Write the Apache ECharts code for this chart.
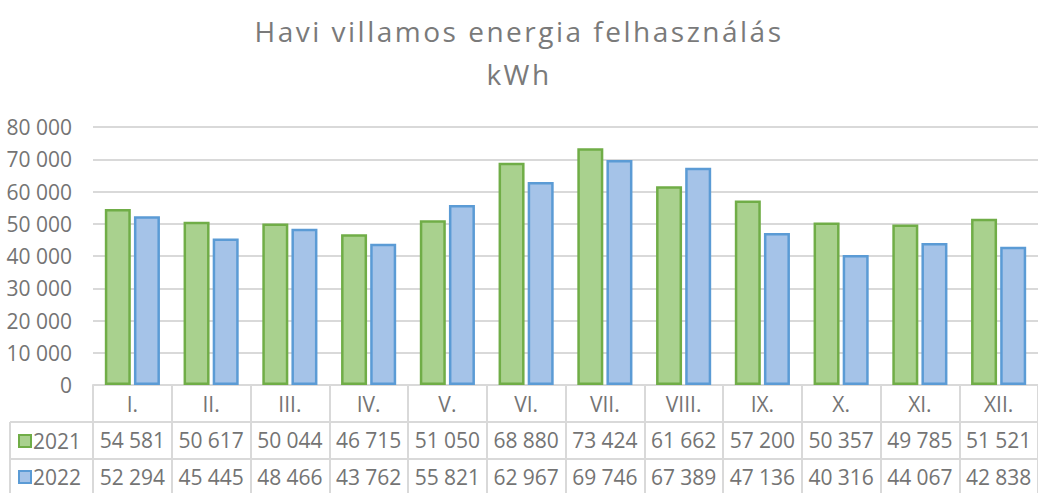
<!DOCTYPE html>
<html>
<head>
<meta charset="utf-8">
<script src="https://cdn.jsdelivr.net/npm/echarts@6/dist/echarts.min.js"></script>
<style>
html,body{margin:0;padding:0;background:#fff;}
#c{width:1038px;height:493px;}
#c svg text[style*="28px"]{letter-spacing:2.5px;}
</style>
</head>
<body>
<div id="c"></div>
<script>
const months = ['I.','II.','III.','IV.','V.','VI.','VII.','VIII.','IX.','X.','XI.','XII.'];
const seriesNames = ['2021','2022'];
const values2021 = [54581,50617,50044,46715,51050,68880,73424,61662,57200,50357,49785,51521];
const values2022 = [52294,45445,48466,43762,55821,62967,69746,67389,47136,40316,44067,42838];
const yTicks = [0,10000,20000,30000,40000,50000,60000,70000,80000];

const FONT = '"Open Sans", "Liberation Sans", sans-serif';
const TXT = '#747474';
const LINE = '#d9d9d9';
const fmt = v => String(v).replace(/\B(?=(\d{3})+(?!\d))/g, ' ');

const chart = echarts.init(document.getElementById('c'), null, {renderer:'svg'});
const tableAxis = (data, offset, margin, showTick) => ({
  type:'category', data:data, position:'bottom', gridIndex:0, offset:offset,
  boundaryGap:true,
  axisLine:{show:true, lineStyle:{color:LINE, width:2}},
  axisTick:{show:showTick, length:115, lineStyle:{color:LINE, width:2}},
  axisLabel:{show:true, margin:margin, verticalAlign:'middle', color:TXT, fontSize:21, fontFamily:FONT, interval:0},
  splitLine:{show:false}
});
const legendAt = (name, top) => ({
  data:[name], orient:'vertical', left:18, top:top, padding:0,
  itemWidth:12, itemHeight:12, itemGap:5,
  textStyle:{color:TXT, fontSize:21, fontFamily:FONT, lineHeight:22, padding:[0,0,0,-3]},
  icon:'rect'
});

chart.setOption({
  animation:false,
  backgroundColor:'#fff',
  title:{
    text:'Havi villamos energia felhasználás\nkWh',
    left:'center', top:4,
    textStyle:{color:'#7a7a7a', fontSize:28, fontWeight:400, fontFamily:FONT, lineHeight:43}
  },
  legend:[legendAt(seriesNames[0], 430), legendAt(seriesNames[1], 466)],
  grid:{left:93, right:-3, top:127, bottom:108, containLabel:false},
  xAxis:[
    tableAxis(months, 0, 19, true),
    tableAxis(values2021.map(fmt), 37, 18, false),
    tableAxis(values2022.map(fmt), 74, 18, false)
  ],
  yAxis:{
    type:'value', min:yTicks[0], max:yTicks[yTicks.length-1], interval:yTicks[1]-yTicks[0],
    axisLine:{show:false}, axisTick:{show:false},
    axisLabel:{color:TXT, fontSize:21, fontFamily:FONT, margin:21, formatter:fmt},
    splitLine:{lineStyle:{color:LINE, width:2}}
  },
  series:[
    {name:seriesNames[0], type:'bar', data:values2021, barWidth:26, barGap:'12%',
     itemStyle:{color:'#a9d18e', borderColor:'#70ad47', borderWidth:2.5}},
    {name:seriesNames[1], type:'bar', data:values2022, barWidth:26, barGap:'12%',
     itemStyle:{color:'#a5c3e8', borderColor:'#5b9bd5', borderWidth:2.5}}
  ],
  graphic:[
    {type:'line', shape:{x1:10, y1:422, x2:93, y2:422}, style:{stroke:LINE, lineWidth:2}},
    {type:'line', shape:{x1:10, y1:459, x2:93, y2:459}, style:{stroke:LINE, lineWidth:2}},
    {type:'line', shape:{x1:10, y1:422, x2:10, y2:500}, style:{stroke:LINE, lineWidth:2}}
  ]
});
</script>
</body>
</html>
